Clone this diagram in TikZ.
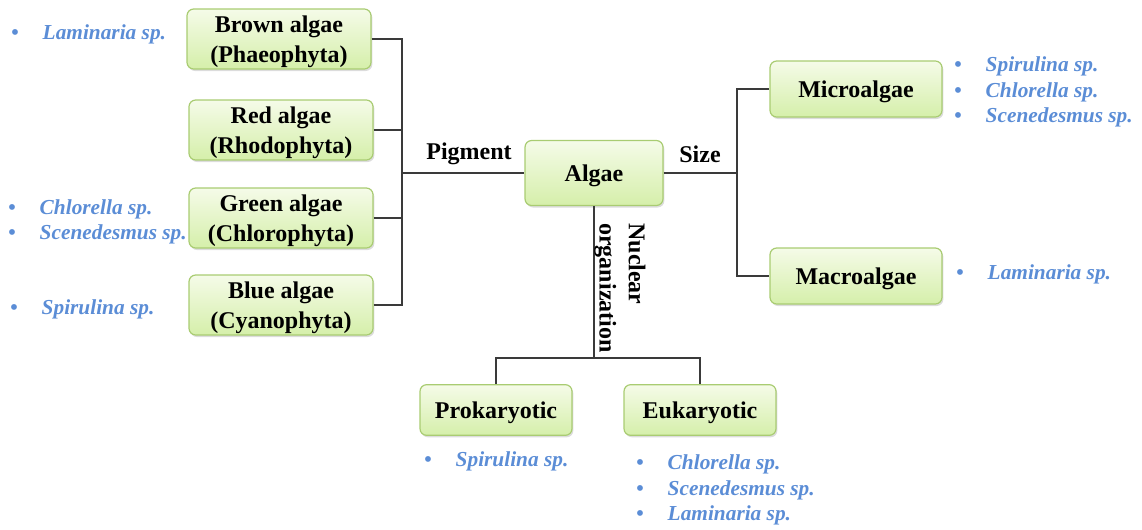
\documentclass[tikz,border=0pt]{standalone}
\usepackage{fontspec}
\setmainfont{Liberation Serif}
\definecolor{leafline}{HTML}{A9CC72}
\definecolor{leaftop} {HTML}{F5FBE8}
\definecolor{leafbot} {HTML}{D5EFAA}
\definecolor{wire}    {HTML}{3A3A3A}
\definecolor{species} {HTML}{5B8DD6}
\usepackage{tikz}
\usetikzlibrary{positioning,calc,shadows}
\tikzset{
  group/.style={draw=leafline,line width=0.9pt,rounded corners=5pt,
                top color=leaftop,bottom color=leafbot,align=center,
                font=\fontsize{18}{22.5}\selectfont\bfseries,text=black,
                inner sep=2pt,minimum width=138pt,minimum height=45pt,text depth=0pt,
                drop shadow={shadow xshift=1pt,shadow yshift=-1.5pt,
                             fill=black!30,opacity=0.45}},
  link/.style={draw=wire,line width=1.1pt},
  crit/.style={font=\fontsize{18}{22}\selectfont\bfseries,text=black,inner sep=1pt},
  splist/.style={anchor=west,align=left,inner sep=0pt,text=species,
                 font=\fontsize{16}{19}\selectfont\bfseries\itshape}
}
\newcommand{\spitem}[1]{{\upshape\textbullet}\hspace{18pt}#1}

\begin{document}
\begin{tikzpicture}[x=0.75pt,y=-0.75pt]
  \useasboundingbox (0,0) rectangle (1142,529);

  \node[group] (brown) at (279,39)  {Brown algae\\(Phaeophyta)};
  \node[group] (red)   at (281,130) {Red algae\\(Rhodophyta)};
  \node[group] (green) at (281,218) {Green algae\\(Chlorophyta)};
  \node[group] (blue)  at (281,305) {Blue algae\\(Cyanophyta)};

  \node[group,minimum width=103.5pt,minimum height=48.75pt] (algae) at (594,173) {Algae};

  \node[group,minimum width=129pt,minimum height=42pt] (micro) at (856,89)  {Microalgae};
  \node[group,minimum width=129pt,minimum height=42pt] (macro) at (856,276) {Macroalgae};

  \node[group,minimum width=114pt,minimum height=38pt] (prok) at (496,410) {Prokaryotic};
  \node[group,minimum width=114pt,minimum height=38pt] (euk)  at (700,410) {Eukaryotic};

  \coordinate (pigJ)  at (402,173);
  \coordinate (sizeJ) at (737,173);
  \coordinate (nucJ)  at (594,358);

  \draw[link] (brown.east) -| (pigJ);
  \draw[link] (blue.east)  -| (pigJ);
  \draw[link] (red.east)   -- (red.east -| pigJ);
  \draw[link] (green.east) -- (green.east -| pigJ);
  \draw[link] (pigJ) -- (algae.west);

  \draw[link] (algae.east) -- (sizeJ);
  \draw[link] (sizeJ) |- (micro.west);
  \draw[link] (sizeJ) |- (macro.west);

  \draw[link] (algae.south) -- (nucJ);
  \draw[link] (nucJ) -| (prok.north);
  \draw[link] (nucJ) -| (euk.north);

  \node[crit] (pigment) at (469,154) {Pigment};
  \node[crit] (size)    at (700,154) {Size};
  \node[crit,rotate=-90,align=left] (nuclear) at (620,288) {Nuclear\\organization};

  \node[splist] (brownSp) at (11,34)  {\spitem{Laminaria sp.}};
  \node[splist] (greenSp) at (8,222)  {\spitem{Chlorella sp.}\\\spitem{Scenedesmus sp.}};
  \node[splist] (blueSp)  at (10,309) {\spitem{Spirulina sp.}};
  \node[splist] (microSp) at (954,92) {\spitem{Spirulina sp.}\\\spitem{Chlorella sp.}\\\spitem{Scenedesmus sp.}};
  \node[splist] (macroSp) at (956,274) {\spitem{Laminaria sp.}};
  \node[splist] (prokSp)  at (424,461) {\spitem{Spirulina sp.}};
  \node[splist] (eukSp)   at (636,490) {\spitem{Chlorella sp.}\\\spitem{Scenedesmus sp.}\\\spitem{Laminaria sp.}};
\end{tikzpicture}
\end{document}
